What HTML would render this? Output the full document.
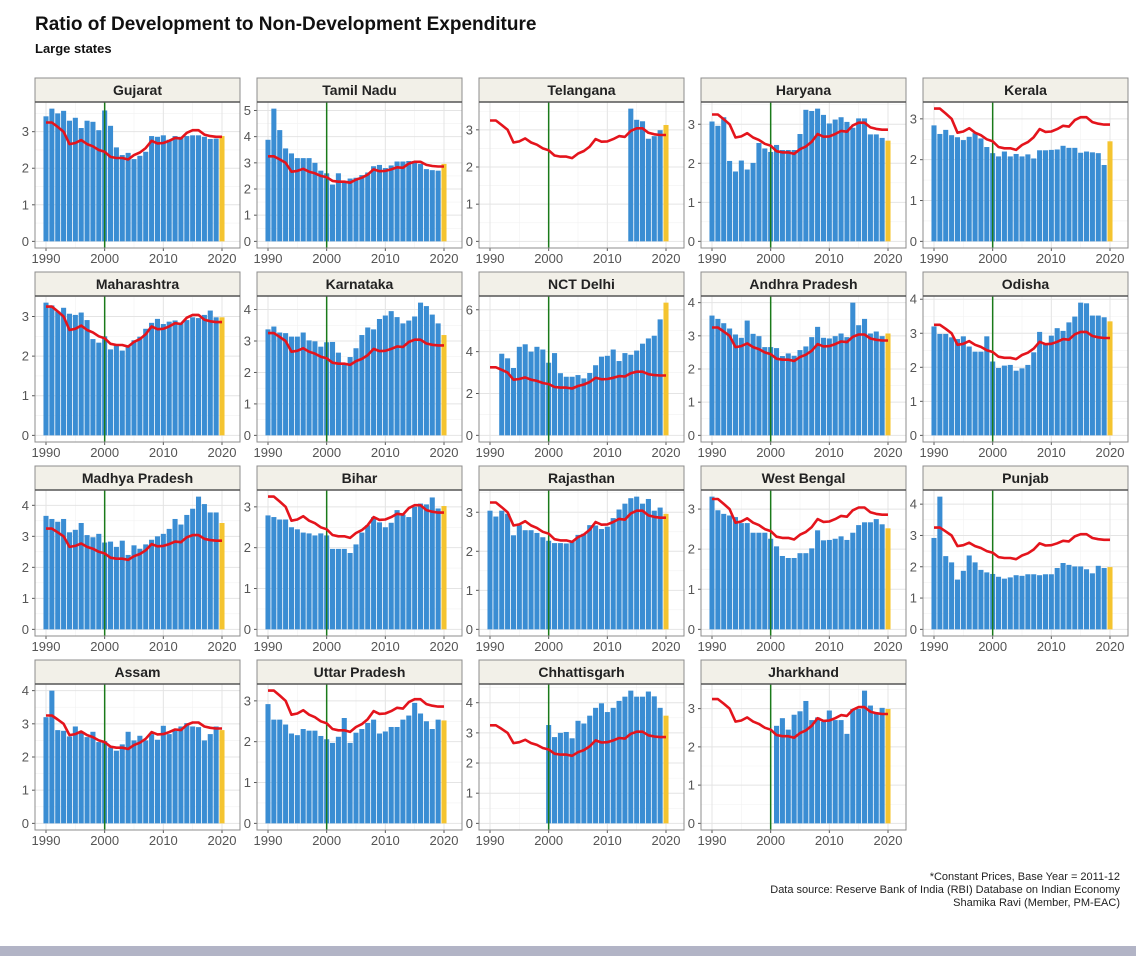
<!DOCTYPE html>
<html>
<head>
<meta charset="utf-8">
<style>
  html,body{margin:0;padding:0;background:#fff;}
  body{width:1136px;height:970px;position:relative;overflow:hidden;font-family:"Liberation Sans",sans-serif;}
  #title{position:absolute;left:35px;top:14px;font-size:19px;font-weight:bold;color:#111;}
  #subtitle{position:absolute;left:35px;top:41px;font-size:13px;font-weight:bold;color:#111;}
  #caption{position:absolute;right:16px;top:871px;font-size:11px;line-height:13px;text-align:right;color:#222;}
  #bottombar{position:absolute;left:0;top:946px;width:1136px;height:10px;background:#b2b4c6;}
  svg{position:absolute;left:0;top:0;}
</style>
</head>
<body>
<div id="title">Ratio of Development to Non-Development Expenditure</div>
<div id="subtitle">Large states</div>
<svg id="chart" width="1136" height="970"></svg>
<div id="caption">*Constant Prices, Base Year = 2011-12<br>Data source: Reserve Bank of India (RBI) Database on Indian Economy<br>Shamika Ravi (Member, PM-EAC)</div>
<div id="bottombar"></div>
<script>
const stateNames = ["Gujarat","Tamil Nadu","Telangana","Haryana","Kerala","Maharashtra","Karnataka","NCT Delhi","Andhra Pradesh","Odisha","Madhya Pradesh","Bihar","Rajasthan","West Bengal","Punjab","Assam","Uttar Pradesh","Chhattisgarh","Jharkhand"];
const startYears = [1990,1990,2014,1990,1990,1990,1990,1992,1990,1990,1990,1990,1990,1990,1990,1990,1990,2000,2001];
const tickSteps = [1,1,1,1,1,1,1,2,1,1,1,1,1,1,1,1,1,1,1];
const natAvg = [3.25,3.25,3.13,3.0,2.66,2.69,2.77,2.66,2.6,2.5,2.45,2.31,2.28,2.28,2.24,2.36,2.43,2.55,2.75,2.68,2.69,2.75,2.83,2.81,2.97,3.04,3.04,2.92,2.88,2.86,2.86];
const gujarat = [3.42,3.63,3.5,3.57,3.3,3.38,3.1,3.3,3.27,3.04,3.58,3.16,2.57,2.36,2.42,2.25,2.34,2.45,2.88,2.86,2.9,2.78,2.88,2.86,2.88,2.9,2.9,2.86,2.8,2.81,2.88];
const tamilNadu = [3.88,5.07,4.25,3.55,3.36,3.18,3.18,3.18,3.0,2.7,2.6,2.17,2.6,2.24,2.4,2.43,2.53,2.63,2.87,2.92,2.8,2.9,3.05,3.05,3.07,3.07,2.96,2.76,2.72,2.7,2.96];
const telangana = [3.57,3.27,3.23,2.76,2.83,2.99,3.13];
const haryana = [3.07,2.96,3.18,2.06,1.79,2.07,1.84,2.01,2.52,2.38,2.29,2.47,2.34,2.34,2.34,2.75,3.37,3.34,3.4,3.24,3.02,3.12,3.18,3.06,2.91,3.15,3.15,2.74,2.74,2.65,2.58];
const kerala = [2.84,2.63,2.73,2.6,2.55,2.48,2.56,2.65,2.52,2.31,2.16,2.08,2.2,2.08,2.14,2.08,2.13,2.03,2.23,2.23,2.24,2.25,2.34,2.29,2.29,2.17,2.2,2.18,2.16,1.87,2.45];
const maharashtra = [3.35,3.28,3.13,3.22,3.07,3.04,3.1,2.91,2.43,2.34,2.5,2.17,2.28,2.14,2.25,2.4,2.49,2.69,2.84,2.94,2.81,2.87,2.9,2.84,2.91,2.98,2.96,3.04,3.15,2.98,2.98];
const karnataka = [3.37,3.46,3.27,3.25,3.14,3.14,3.27,3.02,2.99,2.82,2.96,2.97,2.63,2.3,2.49,2.77,3.19,3.43,3.37,3.7,3.81,3.95,3.76,3.56,3.65,3.78,4.22,4.11,3.84,3.56,3.19];
const nctDelhi = [3.9,3.68,3.22,4.23,4.35,4.0,4.23,4.1,3.47,3.93,2.97,2.8,2.8,2.88,2.72,2.98,3.35,3.76,3.8,4.1,3.55,3.93,3.85,4.05,4.38,4.63,4.76,5.54,6.34];
const andhra = [3.61,3.51,3.38,3.22,3.04,2.94,3.46,3.06,2.99,2.66,2.66,2.63,2.39,2.47,2.4,2.57,2.68,2.96,3.27,2.94,2.92,2.99,3.07,2.96,4.0,3.32,3.51,3.07,3.13,2.99,3.07];
const odisha = [3.2,2.98,2.98,2.88,2.83,2.91,2.61,2.46,2.46,2.91,2.17,1.98,2.05,2.07,1.9,1.97,2.07,2.44,3.04,2.68,2.93,3.15,3.07,3.32,3.49,3.9,3.88,3.52,3.52,3.47,3.35];
const madhya = [3.66,3.56,3.47,3.56,3.13,3.21,3.43,3.04,2.97,3.08,2.8,2.83,2.66,2.86,2.4,2.71,2.6,2.74,2.89,3.0,3.08,3.24,3.56,3.38,3.69,3.89,4.28,4.04,3.77,3.77,3.43];
const bihar = [2.79,2.75,2.69,2.69,2.5,2.45,2.37,2.35,2.3,2.35,2.3,1.97,1.97,1.97,1.87,2.08,2.37,2.55,2.75,2.62,2.5,2.61,2.92,2.81,2.75,3.0,3.08,3.06,3.23,2.96,3.02];
const rajasthan = [3.04,2.89,3.04,2.96,2.41,2.67,2.54,2.54,2.47,2.36,2.27,2.21,2.21,2.2,2.25,2.42,2.45,2.67,2.66,2.57,2.63,2.85,3.07,3.22,3.36,3.4,3.22,3.34,3.04,3.12,2.96];
const westBengal = [3.31,2.97,2.88,2.84,2.8,2.65,2.65,2.41,2.41,2.41,2.26,2.07,1.83,1.78,1.78,1.9,1.9,2.02,2.47,2.22,2.23,2.26,2.32,2.23,2.41,2.6,2.67,2.67,2.75,2.62,2.52];
const punjab = [2.92,4.24,2.34,2.14,1.59,1.87,2.36,2.14,1.9,1.82,1.77,1.68,1.62,1.66,1.73,1.71,1.76,1.76,1.73,1.76,1.76,1.96,2.12,2.06,2.01,2.01,1.92,1.79,2.03,1.96,1.99];
const assam = [3.2,4.0,2.81,2.79,2.62,2.92,2.71,2.6,2.76,2.45,2.48,2.29,2.19,2.38,2.76,2.5,2.64,2.5,2.69,2.52,2.94,2.69,2.79,2.92,3.02,2.92,2.9,2.5,2.69,2.92,2.81];
const uttarPradesh = [2.92,2.54,2.54,2.42,2.2,2.16,2.31,2.27,2.27,2.14,2.06,1.97,2.12,2.58,1.97,2.22,2.31,2.46,2.54,2.2,2.25,2.36,2.36,2.54,2.64,2.95,2.69,2.5,2.31,2.54,2.52];
const chhattisgarh = [3.26,2.86,3.0,3.03,2.82,3.4,3.31,3.57,3.83,3.98,3.69,3.83,4.06,4.2,4.4,4.2,4.2,4.37,4.21,3.83,3.57];
const jharkhand = [2.55,2.75,2.45,2.84,2.93,3.2,2.7,2.77,2.66,2.95,2.7,2.7,2.34,2.99,2.99,3.47,3.08,2.88,3.02,2.99];
const stateValues = [gujarat,tamilNadu,telangana,haryana,kerala,maharashtra,karnataka,nctDelhi,andhra,odisha,madhya,bihar,rajasthan,westBengal,punjab,assam,uttarPradesh,chhattisgarh,jharkhand];
const xTickYears = [1990,2000,2010,2020];

const NS = "http://www.w3.org/2000/svg";
const svg = document.getElementById("chart");
function mk(tag, attrs, parent){
  const e = document.createElementNS(NS, tag);
  for (const k in attrs) e.setAttribute(k, attrs[k]);
  (parent||svg).appendChild(e);
  return e;
}
const slug = s => s.toLowerCase().replace(/[^a-z]+/g,'-');

stateNames.forEach((name, i) => {
  const col = i % 5, row = Math.floor(i / 5);
  const L = 35 + 222*col, R = L + 205;
  const stripTop = 78 + 194*row, T = stripTop + 24, B = T + 146;
  const vals = stateValues[i], start = startYears[i];
  const g = mk("g", {});
  
  

  const xs = yr => L + 11 + (yr - 1990) * (176/30);
  let M = Math.max(...vals, ...natAvg);
  const lo = -0.05*M, hi = 1.05*M;
  const ys = v => B - (v - lo) / (hi - lo) * (B - T);

  // background + grid
  mk("rect", {x:L, y:T, width:R-L, height:B-T, fill:"#fff"}, g);
  const step = tickSteps[i];
  for (let v = step/2; v < hi; v += step) {
    mk("line", {x1:L, x2:R, y1:ys(v), y2:ys(v), stroke:"#f2f2f2", "stroke-width":0.6}, g);
  }
  for (let yr = 1995; yr <= 2020; yr += 10) mk("line", {x1:xs(yr), x2:xs(yr), y1:T, y2:B, stroke:"#f2f2f2", "stroke-width":0.6}, g);
  for (let v = 0; v <= hi; v += step) {
    mk("line", {x1:L, x2:R, y1:ys(v), y2:ys(v), stroke:"#e4e4e4", "stroke-width":1}, g);
    mk("line", {x1:L-3, x2:L, y1:ys(v), y2:ys(v), stroke:"#555", "stroke-width":1}, g);
    const t = mk("text", {x:L-6, y:ys(v)+4.5, "text-anchor":"end", "font-size":13, fill:"#555"}, g);
    t.textContent = v;
    
    
  }
  xTickYears.forEach(yr => {
    mk("line", {x1:xs(yr), x2:xs(yr), y1:T, y2:B, stroke:"#e4e4e4", "stroke-width":1}, g);
    mk("line", {x1:xs(yr), x2:xs(yr), y1:B, y2:B+3, stroke:"#555", "stroke-width":1}, g);
    const t = mk("text", {x:xs(yr), y:B+15, "text-anchor":"middle", "font-size":13, fill:"#555"}, g);
    t.textContent = yr;
    
    
  });

  // bars
  const bw = 176/30;
  vals.forEach((v, k) => {
    const yr = start + k;
    const b = mk("rect", {x:xs(yr)-bw/2+0.4, y:ys(v), width:bw-0.8, height:ys(0)-ys(v), fill: yr===2020 ? "#f4c430" : "#3a8dd3"}, g);
    
    
  });

  // green reference line at 2000
  const gl = mk("line", {x1:xs(2000), x2:xs(2000), y1:T, y2:B, stroke:"#1a7a1a", "stroke-width":1.5}, g);
  
  

  // national avg line
  const pts = natAvg.map((v, k) => xs(1990+k).toFixed(1) + "," + ys(v).toFixed(1)).join(" ");
  const pl = mk("polyline", {points:pts, fill:"none", stroke:"#e4141c", "stroke-width":2.6, "stroke-linejoin":"round"}, g);
  
  

  // border
  mk("rect", {x:L, y:T, width:R-L, height:B-T, fill:"none", stroke:"#8c8c8c", "stroke-width":1}, g);

  // strip
  const st = mk("rect", {x:L, y:stripTop, width:R-L, height:24, fill:"#f2f0e8", stroke:"#8c8c8c", "stroke-width":1}, g);
  
  
  mk("line", {x1:L, x2:R, y1:T, y2:T, stroke:"#555", "stroke-width":1.5}, g);
  const tt = mk("text", {x:(L+R)/2, y:stripTop+17, "text-anchor":"middle", "font-size":14, "font-weight":"bold", fill:"#222"}, g);
  tt.textContent = name;
  
  
});
</script>
</body>
</html>
